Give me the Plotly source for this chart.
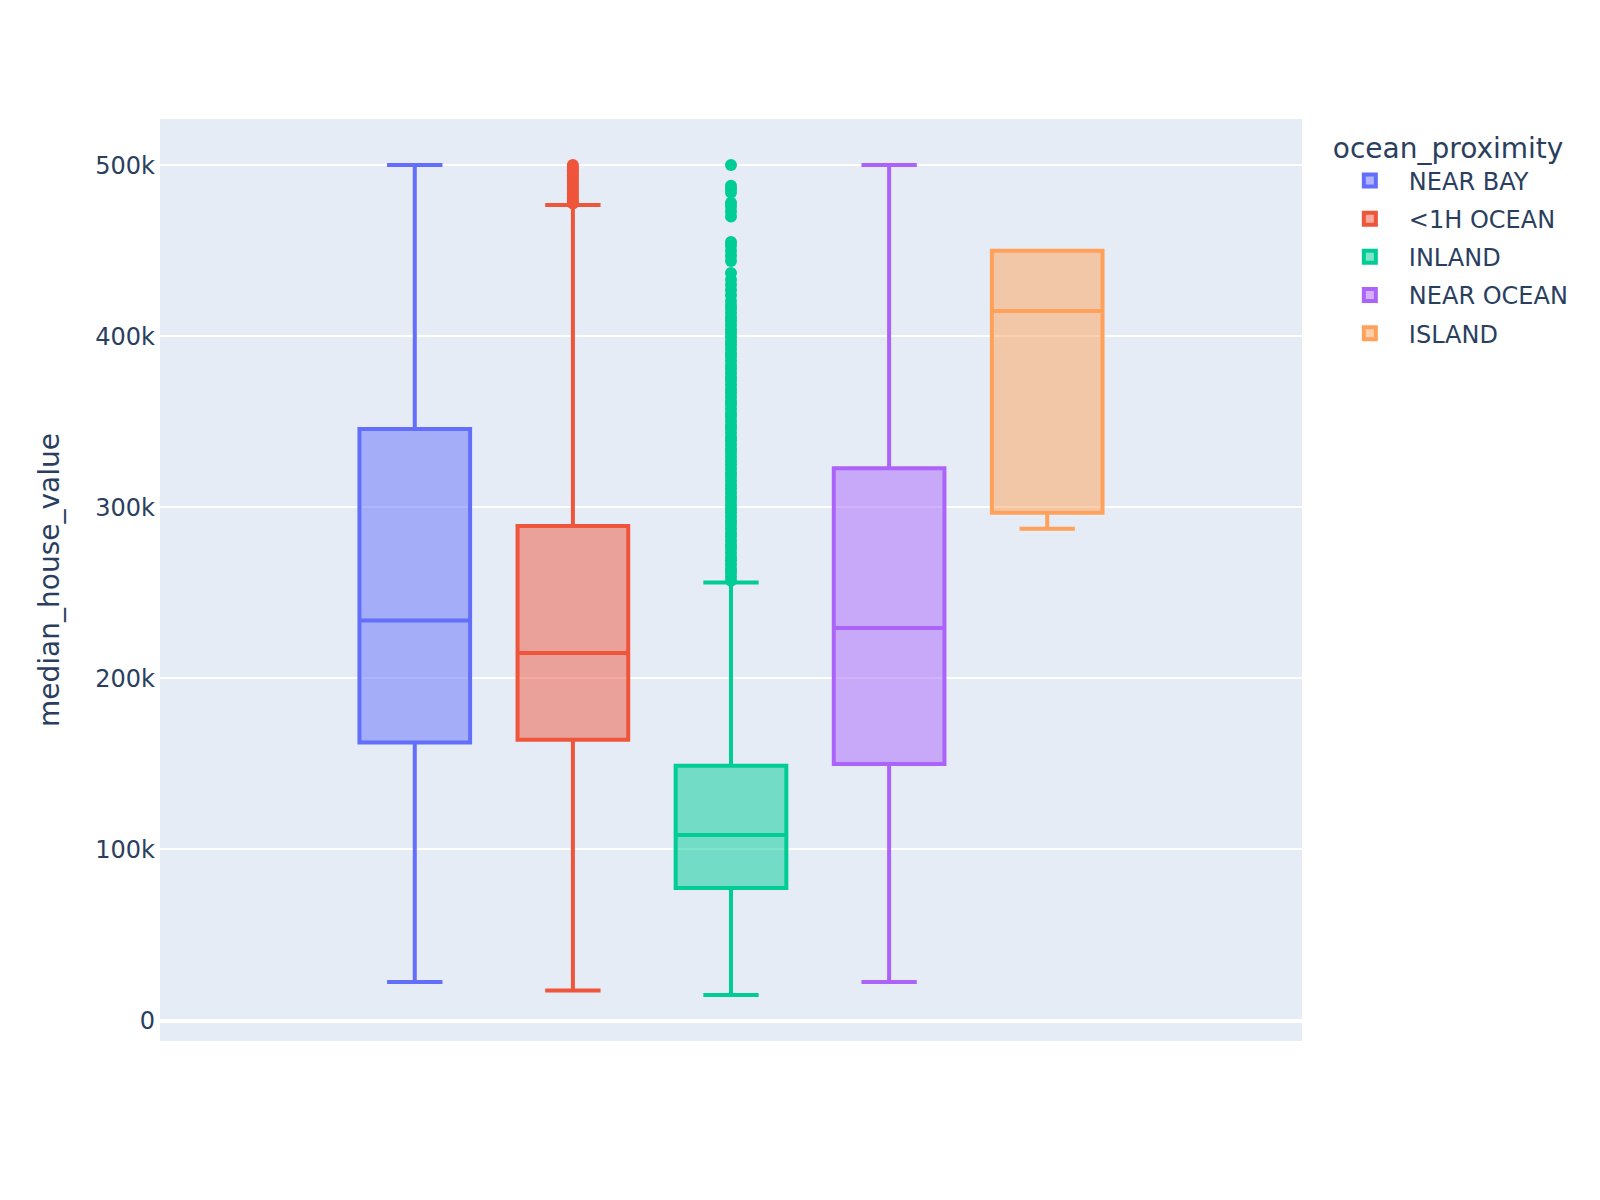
import plotly.graph_objects as go

categories = ["NEAR BAY", "<1H OCEAN", "INLAND", "NEAR OCEAN", "ISLAND"]
colors = ["#636efa", "#EF553B", "#00cc96", "#ab63fa", "#FFA15A"]

lowerfence = [22500, 17500, 14999, 22500, 287500]
q1 = [162500, 164100, 77500, 150000, 296875]
median = [233800, 214850, 108500, 229450, 414700]
q3 = [345700, 289100, 148950, 322750, 450000]
upperfence = [500001, 476700, 256000, 500001, 450000]

outliers_1h = [477500, 479000, 480500, 482000, 483500, 485000, 486500, 488000,
               489500, 491000, 492500, 494000, 495500, 497000, 498500, 500001]
outliers_inland = [257000, 259500, 262000, 264000, 266500, 269000, 271000, 273500,
                   276000, 278000, 280500, 283000, 285000, 287500, 290000, 292000,
                   294500, 297000, 299000, 301500, 304000, 306000, 308500, 311000,
                   313000, 315500, 318000, 320000, 322500, 325000, 327000, 329500,
                   332000, 334000, 336500, 339000, 341000, 343500, 346000, 348000,
                   350500, 353000, 355000, 357500, 360000, 362000, 364500, 367000,
                   369000, 371500, 374000, 376000, 378500, 381000, 383000, 385500,
                   388000, 390000, 392500, 395000, 397000, 399500, 402000, 404000,
                   406500, 409000, 411000, 413500, 416000, 418000, 420500,
                   424000, 427000, 430000, 433000, 437000,
                   444000, 447000, 450000, 453000, 455000,
                   470000, 473000, 476000, 478000,
                   484000, 486000, 488000, 500001]
outliers = [None, outliers_1h, outliers_inland, None, None]

fig = go.Figure()
for i, cat in enumerate(categories):
    kwargs = {}
    if outliers[i]:
        kwargs["y"] = [outliers[i]]
        kwargs["boxpoints"] = "outliers"
    fig.add_trace(go.Box(
        name=cat,
        legendgroup=cat,
        offsetgroup=cat,
        x=[" "],
        q1=[q1[i]],
        median=[median[i]],
        q3=[q3[i]],
        lowerfence=[lowerfence[i]],
        upperfence=[upperfence[i]],
        marker=dict(color=colors[i], size=12),
        line=dict(width=4),
        showlegend=True,
        **kwargs,
    ))

fig.update_layout(
    template="plotly",
    boxmode="group",
    font=dict(family="DejaVu Sans", size=24, color="#2a3f5f"),
    margin=dict(l=152, r=160, t=111, b=151),
    legend=dict(title=dict(text="ocean_proximity", font=dict(size=28)),
                tracegroupgap=4, itemwidth=68, font=dict(size=24),
                borderwidth=6, bordercolor="rgba(0,0,0,0)",
                y=1.0033, yanchor="top"),
    yaxis=dict(title=dict(text="median_house_value", font=dict(size=28), standoff=27),
               gridwidth=2, zerolinewidth=4, tickfont=dict(size=24),
               automargin=False, ticklabelstandoff=4),
    xaxis=dict(showticklabels=False, showgrid=False, automargin=False,
               range=[-0.5056, 0.5056]),
)

fig.write_html("out.html")
